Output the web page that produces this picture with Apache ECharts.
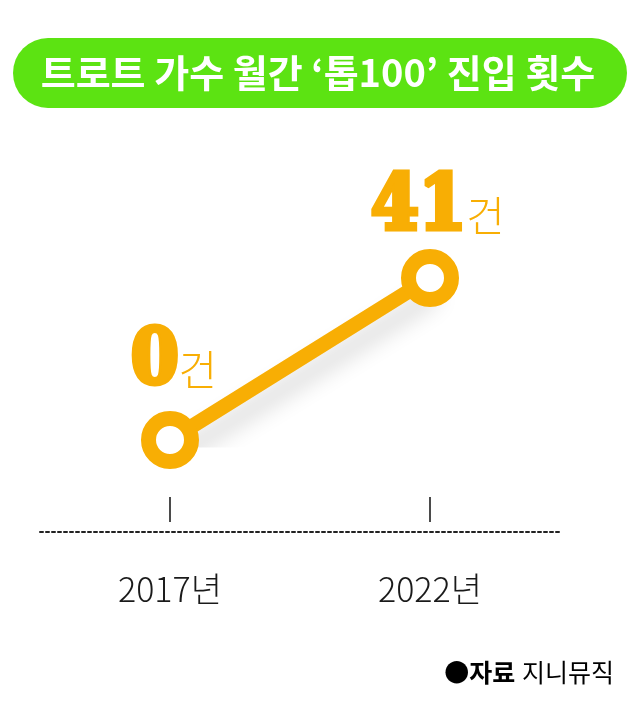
<!DOCTYPE html>
<html><head><meta charset="utf-8">
<script src="https://cdn.jsdelivr.net/npm/echarts@6/dist/echarts.min.js"></script>
<style>html,body{margin:0;padding:0;background:#fff}#c{width:640px;height:720px}</style>
</head><body><div id="c"></div>
<script>
const titleText = '트로트 가수 월간 ‘톱100’ 진입 횟수';
const categories = ['2017년', '2022년'];
const values = [0, 41];
const unitText = '건';
const sourceLabel = '●자료';
const sourceName = '지니뮤직';

const ORANGE = '#f8ae04';
const GREEN = '#5ce312';
const KR = '"Noto Sans CJK KR", "Noto Sans", sans-serif';

const chart = echarts.init(document.getElementById('c'));
const labelRich = {
  n: { fontFamily: '"DejaVu Serif Condensed", "DejaVu Serif", serif', fontWeight: 900, fontSize: 76, color: ORANGE, verticalAlign: 'bottom',
       textBorderColor: ORANGE, textBorderWidth: 5 },
  u: { fontFamily: KR, fontWeight: 300, fontSize: 42, color: ORANGE, verticalAlign: 'bottom', padding: [0, 0, 10, 0] }
};
const labelOffsets = [[4, 6], [8, 10]];
const labelDist = [16, 12];

chart.setOption({
  animation: false,
  graphic: [
    { type: 'rect', shape: { x: 13, y: 38, width: 614, height: 70, r: 35 }, style: { fill: GREEN } },
    { type: 'text', x: 318, y: 73, style: { text: titleText, fill: '#fff', font: '700 38px ' + KR, align: 'center', verticalAlign: 'middle' } },
    { type: 'text', x: 614, y: 672, style: { text: '{b|' + sourceLabel + '}  {r|' + sourceName + '}', align: 'right', verticalAlign: 'middle',
      rich: { b: { fontFamily: KR, fontWeight: 700, fontSize: 25, color: '#111' }, r: { fontFamily: KR, fontWeight: 400, fontSize: 25, color: '#111' } } } }
  ],
  grid: [
    { left: 40, right: 80, top: 278, bottom: 280 },
    { left: 40, right: 80, top: 497, height: 25 }
  ],
  xAxis: [
    { type: 'category', gridIndex: 0, data: categories, boundaryGap: true, offset: 92,
      axisLine: { show: true, onZero: false, lineStyle: { color: '#222', width: 2, type: [3, 3] } },
      axisTick: { show: false },
      axisLabel: { margin: 40, fontFamily: KR, fontWeight: 300, fontSize: 34, color: '#1a1a1a' } },
    { type: 'category', gridIndex: 1, data: categories, boundaryGap: true,
      axisLine: { show: false, onZero: false },
      axisTick: { show: true, inside: true, length: 25, alignWithLabel: true, lineStyle: { color: '#111', width: 1.5 } },
      axisLabel: { show: false } }
  ],
  yAxis: [
    { type: 'value', gridIndex: 0, min: 0, max: 41, show: false },
    { type: 'value', gridIndex: 1, show: false }
  ],
  series: [{
    type: 'line', xAxisIndex: 0, yAxisIndex: 0,
    data: values.map((v, i) => ({
      value: v,
      label: { offset: labelOffsets[i], distance: labelDist[i] }
    })),
    symbol: 'circle', symbolSize: 43,
    lineStyle: { color: ORANGE, width: 15, shadowColor: 'rgba(0,0,0,0.16)', shadowBlur: 22, shadowOffsetX: 6, shadowOffsetY: 16 },
    itemStyle: { color: '#fff', borderColor: ORANGE, borderWidth: 15 },
    label: { show: true, position: 'top', formatter: p => '{n|' + p.value + '}{u|' + unitText + '}', rich: labelRich },
    z: 3
  }]
});
</script></body></html>
